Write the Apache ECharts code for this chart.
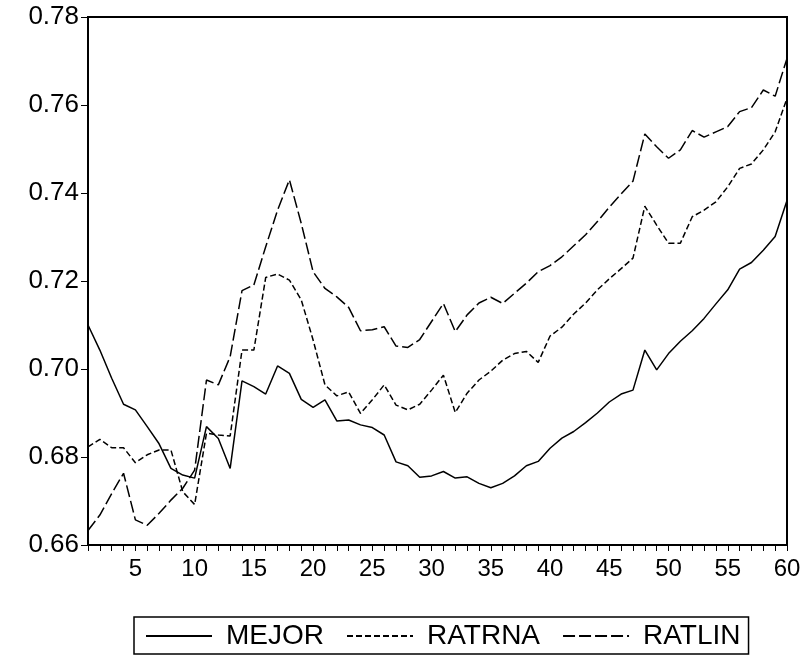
<!DOCTYPE html>
<html>
<head>
<meta charset="utf-8">
<script src="https://cdn.jsdelivr.net/npm/echarts@6/dist/echarts.min.js"></script>
<style>
  html, body { margin: 0; padding: 0; background: #fff; }
  #chart { width: 807px; height: 660px; }
</style>
</head>
<body>
<div id="chart"></div>
<script>
// Periods 1..60
const periods = Array.from({ length: 60 }, (_, i) => String(i + 1));

const mejor = [
  0.7100, 0.7043, 0.6979, 0.6920, 0.6907, 0.6869, 0.6830, 0.6774, 0.6759, 0.6752,
  0.6869, 0.6842, 0.6774, 0.6973, 0.6960, 0.6943, 0.7007, 0.6990, 0.6931, 0.6913,
  0.6930, 0.6882, 0.6884, 0.6873, 0.6867, 0.6850, 0.6789, 0.6780, 0.6754, 0.6757,
  0.6767, 0.6752, 0.6755, 0.6740, 0.6730, 0.6740, 0.6757, 0.6780, 0.6790, 0.6820,
  0.6843, 0.6858, 0.6878, 0.6900, 0.6925, 0.6943, 0.6952, 0.7043, 0.6998, 0.7035,
  0.7063, 0.7087, 0.7115, 0.7148, 0.7180, 0.7227, 0.7242, 0.7270, 0.7301, 0.7383
];

const ratrna = [
  0.6823, 0.6840, 0.6821, 0.6821, 0.6787, 0.6805, 0.6816, 0.6816, 0.6721, 0.6692,
  0.6854, 0.6850, 0.6848, 0.7043, 0.7043, 0.7208, 0.7216, 0.7202, 0.7157, 0.7066,
  0.6964, 0.6939, 0.6948, 0.6899, 0.6930, 0.6964, 0.6918, 0.6907, 0.6920, 0.6952,
  0.6986, 0.6901, 0.6945, 0.6975, 0.6995, 0.7020, 0.7035, 0.7040, 0.7015, 0.7075,
  0.7095, 0.7125, 0.7150, 0.7180, 0.7205, 0.7228, 0.7252, 0.7370, 0.7327, 0.7286,
  0.7286, 0.7346, 0.7361, 0.7380, 0.7414, 0.7456, 0.7466, 0.7498, 0.7539, 0.7615
];

const ratlin = [
  0.6633, 0.6668, 0.6717, 0.6763, 0.6657, 0.6645, 0.6672, 0.6702, 0.6729, 0.6770,
  0.6975, 0.6964, 0.7028, 0.7178, 0.7191, 0.7278, 0.7361, 0.7430, 0.7331, 0.7221,
  0.7183, 0.7164, 0.7140, 0.7087, 0.7089, 0.7096, 0.7052, 0.7049, 0.7067, 0.7108,
  0.7149, 0.7085, 0.7123, 0.7150, 0.7163, 0.7149, 0.7172, 0.7195, 0.7221, 0.7235,
  0.7255, 0.7280, 0.7305, 0.7335, 0.7368, 0.7398, 0.7427, 0.7534, 0.7505, 0.7479,
  0.7498, 0.7542, 0.7527, 0.7539, 0.7551, 0.7585, 0.7594, 0.7634, 0.7620, 0.7706
];

const seriesNames = ['MEJOR', 'RATRNA', 'RATLIN'];

const FONT = '"Liberation Sans", Arial, sans-serif';

const chart = echarts.init(document.getElementById('chart'), null, { renderer: 'canvas' });

function lineSeries(name, data, dash) {
  return {
    name: name,
    type: 'line',
    data: data,
    showSymbol: false,
    symbol: 'none',
    animation: false,
    lineStyle: { color: '#000', width: 1.5, type: dash },
    itemStyle: { color: '#000' }
  };
}

chart.setOption({
  backgroundColor: '#fff',
  animation: false,
  grid: {
    left: 88, right: 20, top: 17, bottom: 115,
    show: true, borderColor: '#000', borderWidth: 2, backgroundColor: 'transparent'
  },
  xAxis: {
    type: 'category',
    data: periods,
    boundaryGap: false,
    axisLine: { show: true, lineStyle: { color: '#000', width: 2 } },
    axisTick: { show: true, interval: 0, length: 6, lineStyle: { color: '#000', width: 1 } },
    axisLabel: {
      interval: (idx, val) => Number(val) % 5 === 0,
      color: '#000', fontFamily: FONT, fontSize: 24, margin: 12
    },
    splitLine: { show: false }
  },
  yAxis: {
    type: 'value',
    min: 0.66, max: 0.78, interval: 0.02,
    axisLine: { show: true, lineStyle: { color: '#000', width: 2 } },
    axisTick: { show: true, length: 7, lineStyle: { color: '#000', width: 1 } },
    axisLabel: {
      formatter: v => v.toFixed(2),
      color: '#000', fontFamily: FONT, fontSize: 26, margin: 9
    },
    splitLine: { show: false }
  },
  legend: {
    show: true,
    data: seriesNames,
    left: 134, top: 617,
    orient: 'horizontal',
    borderColor: '#000', borderWidth: 1.5,
    padding: [5, 8, 4, 11],
    itemWidth: 66, itemHeight: 14, itemGap: 22,
    itemStyle: { opacity: 0 },
    textStyle: { color: '#000', fontFamily: FONT, fontSize: 28, padding: [0, 0, 0, 9] }
  },
  series: [
    lineSeries(seriesNames[0], mejor, 'solid'),
    lineSeries(seriesNames[1], ratrna, [6, 3]),
    lineSeries(seriesNames[2], ratlin, [12, 4])
  ]
});
</script>
</body>
</html>
